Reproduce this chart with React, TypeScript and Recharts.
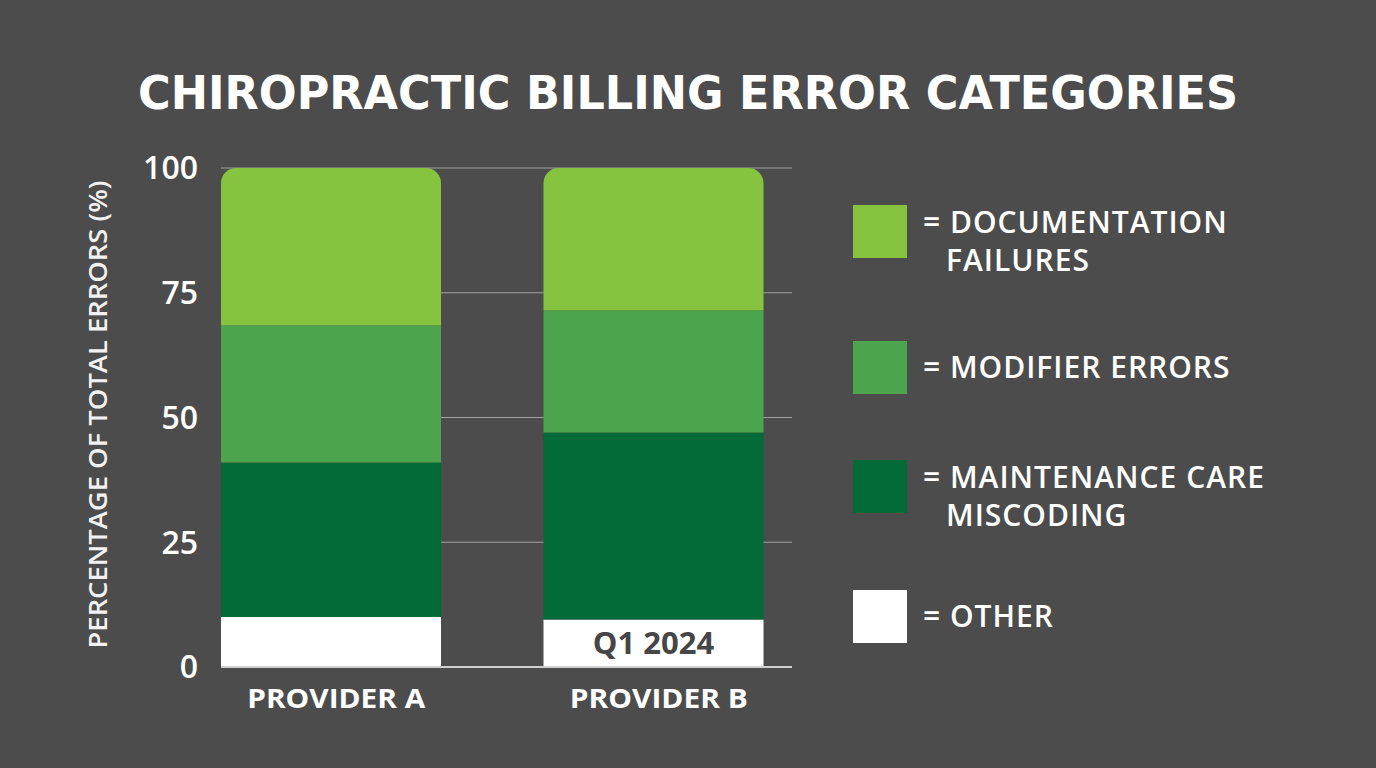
import React from "react";
import { BarChart, Bar, XAxis, YAxis, CartesianGrid, LabelList } from "recharts";

const providers = ["PROVIDER A", "PROVIDER B"];
const documentationFailures = [31.5, 28.5];
const modifierErrors = [27.5, 24.5];
const maintenanceMiscoding = [31, 37.5];
const otherErrors = [10, 9.5];
const barNotes = ["", "Q1 2024"];
const yTicks = [0, 25, 50, 75, 100];

const seriesKeys = ["other", "maintenance", "modifier", "documentation"];
const seriesColors = ["#ffffff", "#036b37", "#4ca54d", "#86c43f"];
const legendOrder = ["documentation", "modifier", "maintenance", "other"];
const legendLines: string[][] = [
  ["= DOCUMENTATION", "FAILURES"],
  ["= MODIFIER ERRORS"],
  ["= MAINTENANCE CARE", "MISCODING"],
  ["= OTHER"],
];

const titleText = "CHIROPRACTIC BILLING ERROR CATEGORIES";
const yAxisTitle = "PERCENTAGE OF TOTAL ERRORS (%)";

const data = providers.map((p, i) => ({
  provider: p,
  other: otherErrors[i],
  maintenance: maintenanceMiscoding[i],
  modifier: modifierErrors[i],
  documentation: documentationFailures[i],
  note: barNotes[i],
}));

const BG = "#4c4c4c";
const FONT = "'Open Sans', 'DejaVu Sans', sans-serif";

const legendTops = [205, 341, 460, 590];

const XTick = (props: any) => {
  const { x, y, payload } = props;
  return (
    <text
      x={x + 5}
      y={y}
      dy="0.85em"
      textAnchor="middle"
      fill="#ffffff"
      fontSize={27}
      fontWeight={700}
      fontFamily={FONT}
      textLength={178}
      lengthAdjust="spacingAndGlyphs"
    >
      {payload.value}
    </text>
  );
};

export default function App() {
  return (
    <div
      style={{
        position: "absolute",
        left: 0,
        top: 0,
        width: 1376,
        height: 768,
        background: BG,
        overflow: "hidden",
        fontFamily: FONT,
      }}
    >
      <svg width={1376} height={130} style={{ position: "absolute", left: 0, top: 0 }}>
        <text
          x={688}
          y={109}
          textAnchor="middle"
          fill="#ffffff"
          fontFamily="'DejaVu Sans', sans-serif"
          fontWeight={700}
          fontSize={47}
          textLength={1100}
          lengthAdjust="spacingAndGlyphs"
        >
          {titleText}
        </text>
      </svg>

      <div style={{ position: "absolute", left: 0, top: 0 }}>
        <BarChart
          width={1376}
          height={768}
          data={data}
          margin={{ top: 168, right: 584, bottom: 61, left: 85 }}
        >
          <CartesianGrid horizontal vertical={false} stroke="#a0a0a0" strokeWidth={1} />
          <XAxis
            dataKey="provider"
            height={40}
            padding={{ left: -51, right: -23 }}
            axisLine={{ stroke: "#d0d0d0", strokeWidth: 2 }}
            tickLine={false}
            tickSize={0}
            tickMargin={18}
            tick={<XTick />}
          />
          <YAxis
            type="number"
            domain={[0, 100]}
            ticks={yTicks}
            width={136}
            axisLine={false}
            tickLine={false}
            tickSize={0}
            tickMargin={23}
            tick={{ fill: "#ffffff", fontSize: 32, fontWeight: 600, fontFamily: FONT }}
            label={{
              content: (props: any) => {
                const vb = props.viewBox || {};
                const cx = vb.x + 12;
                const cy = vb.y + vb.height / 2 - 3;
                return (
                  <text
                    x={cx}
                    y={cy}
                    transform={`rotate(-90 ${cx} ${cy})`}
                    textAnchor="middle"
                    dominantBaseline="central"
                    fill="#f2f2f2"
                    fontSize={25}
                    fontWeight={600}
                    fontFamily={FONT}
                    textLength={468}
                    lengthAdjust="spacingAndGlyphs"
                  >
                    {yAxisTitle}
                  </text>
                );
              },
            }}
          />
          {seriesKeys.map((k, i) => (
            <Bar
              key={k}
              dataKey={k}
              stackId="a"
              fill={seriesColors[i]}
              barSize={220}
              isAnimationActive={false}
              radius={k === "documentation" ? [15, 15, 0, 0] : 0}
            >
              {k === "other" ? (
                <LabelList
                  dataKey="note"
                  position="center"
                  fill="#464646"
                  fontSize={31}
                  fontWeight={700}
                  fontFamily={FONT}
                />
              ) : null}
            </Bar>
          ))}
        </BarChart>
      </div>

      {legendOrder.map((k, i) => {
        const idx = seriesKeys.indexOf(k);
        return (
          <div key={k} style={{ position: "absolute", left: 853, top: legendTops[i] }}>
            <div
              style={{
                position: "absolute",
                left: 0,
                top: 0,
                width: 54,
                height: 53,
                background: seriesColors[idx],
              }}
            />
            {legendLines[i].map((line, j) => (
              <div
                key={j}
                style={{
                  position: "absolute",
                  left: j === 0 ? 70 : 93,
                  top: (legendLines[i].length === 1 ? 6 : -3) + j * 38,
                  whiteSpace: "nowrap",
                  color: "#ffffff",
                  fontSize: 30,
                  fontWeight: 600,
                  letterSpacing: 1,
                  lineHeight: "40px",
                  fontFamily: FONT,
                }}
              >
                {line}
              </div>
            ))}
          </div>
        );
      })}
    </div>
  );
}
